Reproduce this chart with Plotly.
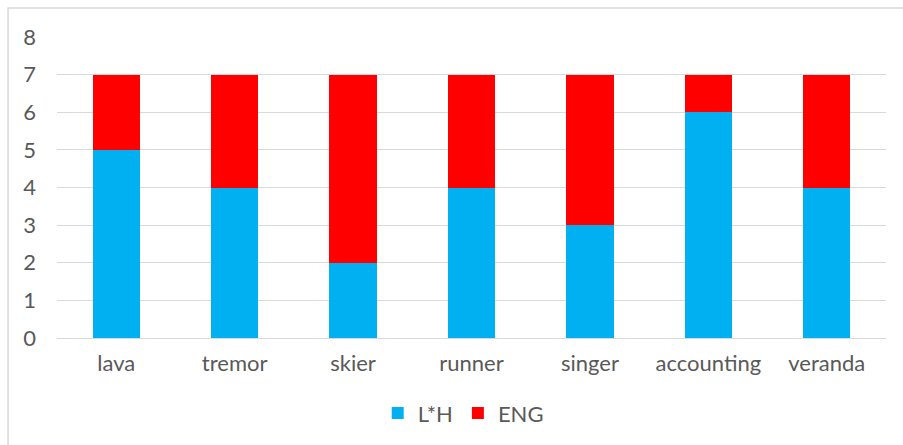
import plotly.graph_objects as go

categories = ["lava", "tremor", "skier", "runner", "singer", "accounting", "veranda"]
lh_values = [5, 4, 2, 4, 3, 6, 4]
eng_values = [2, 3, 5, 3, 4, 1, 3]
y_ticks = [0, 1, 2, 3, 4, 5, 6, 7, 8]

fig = go.Figure()
fig.add_trace(go.Bar(x=categories, y=lh_values, name="L*H", marker_color="#00B0F0", marker_line_width=0))
fig.add_trace(go.Bar(x=categories, y=eng_values, name="ENG", marker_color="#FF0000", marker_line_width=0))

fig.update_layout(
    barmode="stack",
    bargap=0.6,
    width=903, height=445,
    margin=dict(l=57, r=17, t=37, b=107, autoexpand=False),
    paper_bgcolor="white",
    plot_bgcolor="white",
    font=dict(family="Lato", size=22, color="#595959"),
    legend=dict(orientation="h", x=0.49, xanchor="center", y=-0.25, yanchor="middle",
                font=dict(size=22), itemwidth=30, traceorder="normal"),
    xaxis=dict(showgrid=False, showline=False, ticks="", tickfont=dict(size=22), ticklabelstandoff=10),
    yaxis=dict(range=[0, 8], tickvals=y_ticks, showgrid=True, gridcolor="#D9D9D9", gridwidth=1,
               zeroline=True, zerolinecolor="#D9D9D9", zerolinewidth=1, ticks="",
               tickfont=dict(size=22), ticklabelstandoff=20),
    shapes=[dict(type="rect", xref="paper", yref="paper", x0=-0.059, x1=1.2, y0=-1.0, y1=1.096,
                 line=dict(color="#D9D9D9", width=1.5), fillcolor="rgba(0,0,0,0)", layer="below")],
)

fig.write_html("out.html")
